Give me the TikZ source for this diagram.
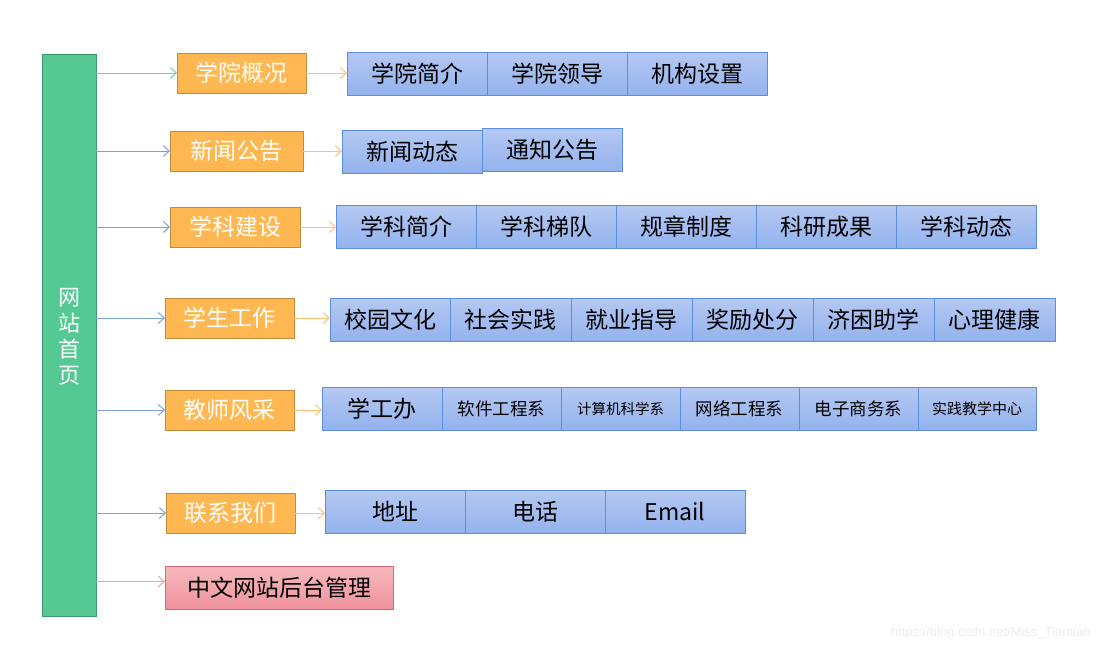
\documentclass[tikz,border=0pt]{standalone}
\usepackage{fontspec}
\setmainfont{Noto Sans CJK SC}
\newfontfamily\wmfont{Liberation Sans}
\usetikzlibrary{arrows.meta}
\definecolor{grn}{HTML}{55C993}
\definecolor{grnb}{HTML}{3A9A6C}
\definecolor{org}{HTML}{FFB851}
\definecolor{orgb}{HTML}{C48A3A}
\definecolor{bluet}{HTML}{B5C9F2}
\definecolor{blueb}{HTML}{93B2EE}
\definecolor{bluebd}{HTML}{5B8EE0}
\definecolor{pinkt}{HTML}{F6BABE}
\definecolor{pinkb}{HTML}{F0929C}
\definecolor{pinkbd}{HTML}{E06477}
\definecolor{agrn}{HTML}{6ED3A3}
\definecolor{ablu}{HTML}{7AA2E6}
\definecolor{aorg}{HTML}{FFC272}
\definecolor{apnk}{HTML}{F2A2A2}
\begin{document}
\begin{tikzpicture}[x=1pt,y=-1pt,
  bigfont/.style={font=\fontsize{23}{26}\selectfont},
  cat/.style={draw=orgb, fill=org, text=white, bigfont, minimum width=#1pt, minimum height=40pt, inner sep=0pt, outer sep=0pt, anchor=north west, line width=0.8pt},
  sub/.style={draw=bluebd, top color=bluet, bottom color=blueb, text=black, bigfont, minimum width=#1pt, minimum height=43pt, inner sep=0pt, outer sep=0pt, line width=0.8pt},
  admin/.style={draw=pinkbd, top color=pinkt, bottom color=pinkb, text=black, bigfont, minimum width=228pt, minimum height=43pt, inner sep=0pt, outer sep=0pt, anchor=north west, line width=0.8pt},
  link/.style={draw=#1, line width=1pt, -{Straight Barb[length=6pt,width=11pt]}},
]
\fill[white] (0,0) rectangle (1102,651);
\useasboundingbox (0,0) rectangle (1102,651);

% green bar
\node[draw=grnb, fill=grn, minimum width=54pt, minimum height=562pt, inner sep=0pt, outer sep=0pt, anchor=north west, line width=0.8pt] (bar) at (42,54) {};
\node[text=white, align=center, font=\fontsize{22}{26}\selectfont] (bartext) at (69,337) {网\\站\\首\\页};

% row 1
\node[cat=129] (c1) at (177,53) {学院概况};
\node[sub=140, anchor=north west] (r1a) at (347,52) {学院简介};
\node[sub=140, anchor=west] (r1b) at (r1a.east) {学院领导};
\node[sub=140, anchor=west] (r1c) at (r1b.east) {机构设置};

% row 2
\node[cat=133] (c2) at (170,131) {新闻公告};
\node[sub=140, anchor=north west] (r2a) at (342,130) {新闻动态};
\node[sub=140, anchor=north west] (r2b) at (482,128) {通知公告};

% row 3
\node[cat=130] (c3) at (170,207) {学科建设};
\node[sub=140, anchor=north west] (r3a) at (336,205) {学科简介};
\node[sub=140, anchor=west] (r3b) at (r3a.east) {学科梯队};
\node[sub=140, anchor=west] (r3c) at (r3b.east) {规章制度};
\node[sub=140, anchor=west] (r3d) at (r3c.east) {科研成果};
\node[sub=140, anchor=west] (r3e) at (r3d.east) {学科动态};

% row 4
\node[cat=129] (c4) at (165,298) {学生工作};
\node[sub=120, anchor=north west] (r4a) at (330,298) {校园文化};
\node[sub=121, anchor=west] (r4b) at (r4a.east) {社会实践};
\node[sub=121, anchor=west] (r4c) at (r4b.east) {就业指导};
\node[sub=121, anchor=west] (r4d) at (r4c.east) {奖励处分};
\node[sub=121, anchor=west] (r4e) at (r4d.east) {济困助学};
\node[sub=121, anchor=west] (r4f) at (r4e.east) {心理健康};

% row 5
\node[cat=129] (c5) at (165,390) {教师风采};
\node[sub=120, anchor=north west] (r5a) at (322,387) {学工办};
\node[sub=119, anchor=west, font=\fontsize{17.5}{20}\selectfont] (r5b) at (r5a.east) {软件工程系};
\node[sub=119, anchor=west, font=\fontsize{14.5}{17}\selectfont] (r5c) at (r5b.east) {计算机科学系};
\node[sub=119, anchor=west, font=\fontsize{17.5}{20}\selectfont] (r5d) at (r5c.east) {网络工程系};
\node[sub=119, anchor=west, font=\fontsize{17.5}{20}\selectfont] (r5e) at (r5d.east) {电子商务系};
\node[sub=118, anchor=west, font=\fontsize{15}{17}\selectfont] (r5f) at (r5e.east) {实践教学中心};

% row 6
\node[cat=129] (c6) at (166,493) {联系我们};
\node[sub=140, anchor=north west] (r6a) at (325,490) {地址};
\node[sub=140, anchor=west] (r6b) at (r6a.east) {电话};
\node[sub=140, anchor=west] (r6c) at (r6b.east) {Email};

% row 7
\node[admin] (c7) at (165,566) {中文网站后台管理};

% connectors from bar
\draw[link=agrn] (bar.east |- c1.west) -- (c1.west);
\draw[link=ablu] (bar.east |- c2.west) -- (c2.west);
\draw[link=ablu] (bar.east |- c3.west) -- (c3.west);
\draw[link=ablu] (bar.east |- c4.west) -- (c4.west);
\draw[link=ablu] (bar.east |- c5.west) -- (c5.west);
\draw[link=ablu] (bar.east |- c6.west) -- (c6.west);
\draw[link=apnk] ([yshift=6pt]bar.east |- c7.west) -- ([yshift=6pt]c7.west);

% connectors to sub rows
\draw[link=aorg] (c1.east) -- (r1a.west |- c1.east);
\draw[link=aorg] (c2.east) -- (r2a.west |- c2.east);
\draw[link=aorg] (c3.east) -- (r3a.west |- c3.east);
\draw[link=aorg] (c4.east) -- (r4a.west |- c4.east);
\draw[link=aorg] (c5.east) -- (r5a.west |- c5.east);
\draw[link=aorg] (c6.east) -- (r6a.west |- c6.east);

% watermark
\node[text=black!7, font=\wmfont\fontsize{13}{15}\selectfont, anchor=east] (wm) at (1094,633) {https://blog.csdn.net/Miss\_Tiantian};
\end{tikzpicture}
\end{document}
